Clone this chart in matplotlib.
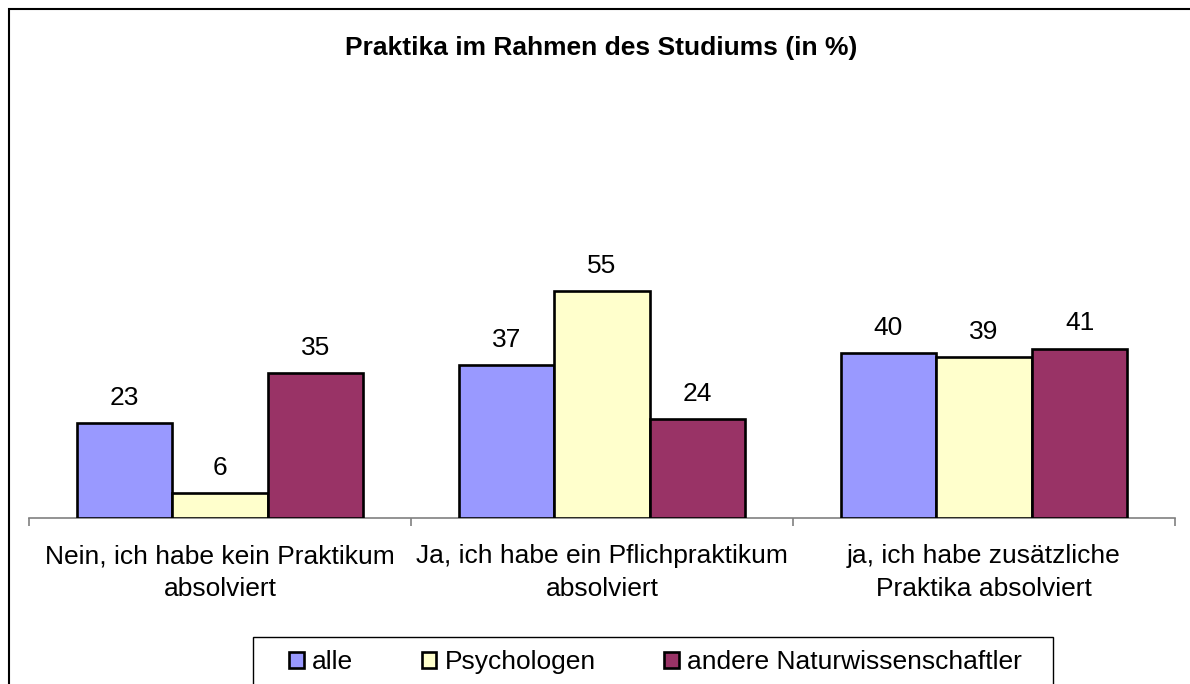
import matplotlib.pyplot as plt
from matplotlib.patches import Rectangle
import numpy as np

plt.rcParams['font.family'] = ['Liberation Sans', 'DejaVu Sans']

# Daten
kategorien = ["Nein, ich habe kein Praktikum\nabsolviert",
              "Ja, ich habe ein Pflichpraktikum\nabsolviert",
              "ja, ich habe zusätzliche\nPraktika absolviert"]
gruppen = ["alle", "Psychologen", "andere Naturwissenschaftler"]
alle = [23, 37, 40]
psychologen = [6, 55, 39]
naturwiss = [35, 24, 41]
farben = ["#9999FF", "#FFFFCC", "#993366"]

W, H = 1190, 684
FS = 19
fig = plt.figure(figsize=(W / 100, H / 100), dpi=100)

# aeusserer Rahmen
fig.patches.append(Rectangle((9 / W, -0.1), 1.1, 1 - 9 / H + 0.1, transform=fig.transFigure,
                             fill=False, edgecolor="black", linewidth=1.5))

ax = fig.add_axes([29 / W, 1 - 518 / H, (1175 - 29) / W, (518 - 270) / H])
x = np.arange(len(kategorien))
breite = 0.25
for i, (werte, name) in enumerate(zip([alle, psychologen, naturwiss], gruppen)):
    pos = x + (i - 1) * breite
    bars = ax.bar(pos, werte, width=breite, color=farben[i], edgecolor="black",
                  linewidth=1.9, label=name, zorder=3)
    for b, v in zip(bars, werte):
        ax.annotate(str(v), (b.get_x() + b.get_width() / 2, v), xytext=(0, 13),
                    textcoords="offset points", ha="center", va="baseline",
                    fontsize=FS, clip_on=False)

ax.set_xlim(-0.5, 2.5)
ax.set_ylim(0, 60)
for s in ["top", "right", "left"]:
    ax.spines[s].set_visible(False)
ax.spines["bottom"].set_color("#808080")
ax.spines["bottom"].set_linewidth(1.2)
ax.set_yticks([])
ax.set_xticks([-0.5, 0.5, 1.5, 2.5])
ax.set_xticklabels([])
ax.tick_params(axis="x", direction="out", length=6, width=1.2, color="#808080")
ax.patch.set_alpha(0)
for i, k in enumerate(kategorien):
    ax.text(i, -0.105, k, transform=ax.get_xaxis_transform(), ha="center", va="top",
            fontsize=FS, linespacing=1.45)

fig.text(601 / W, 1 - 48 / H, "Praktika im Rahmen des Studiums (in %)", ha="center",
         va="center", fontsize=FS, fontweight="bold")

# Legende ohne Rahmen, Rahmen separat
leg = fig.legend(loc="center left", bbox_to_anchor=(289 / W, 1 - 662 / H), ncol=3,
                 frameon=False, fontsize=FS, handlelength=0.55,
                 handleheight=0.55, handletextpad=0.32, columnspacing=2.6,
                 borderpad=0, borderaxespad=0)
fig.patches.append(Rectangle((253 / W, -0.1), (1053 - 253) / W, 0.1 + 1 - 637 / H,
                             transform=fig.transFigure, fill=False,
                             edgecolor="black", linewidth=1.0))

fig.savefig("out.png", dpi=100)
